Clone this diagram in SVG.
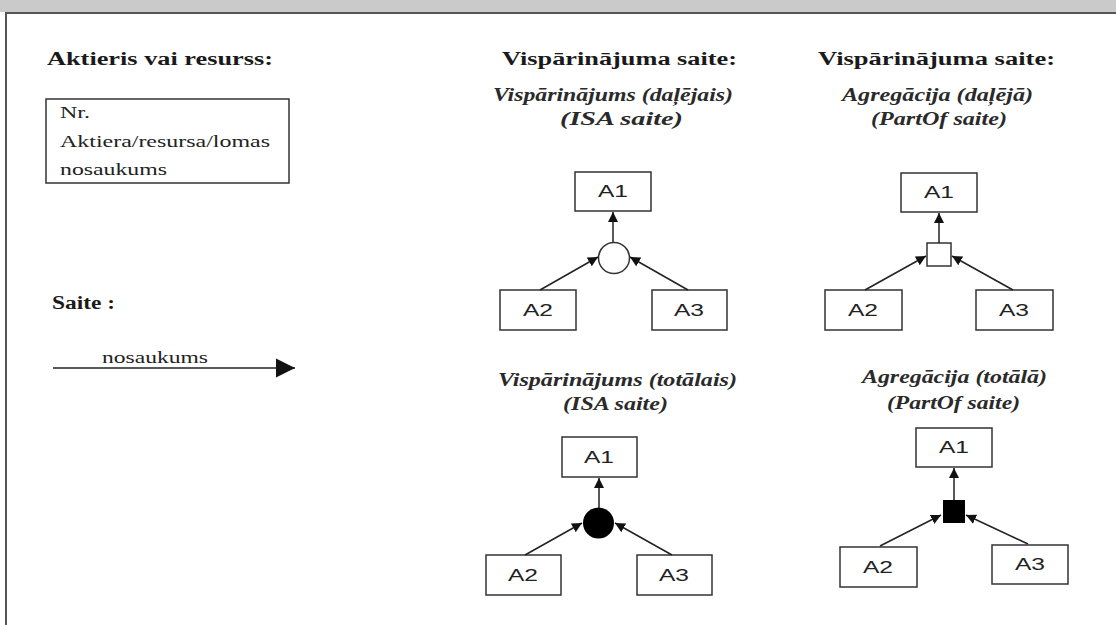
<svg xmlns="http://www.w3.org/2000/svg" width="1116" height="625" viewBox="0 0 1116 625">
<style>
.hd{font-family:"Liberation Serif",serif;font-weight:bold;font-size:18px;fill:#1a1a1a}
.ti{font-family:"Liberation Serif",serif;font-weight:bold;font-style:italic;font-size:18px;fill:#2a2a2a}
.tx{font-family:"Liberation Serif",serif;font-size:17px;fill:#222}
.lb{font-family:"Liberation Sans",sans-serif;font-size:16px;fill:#222;text-anchor:middle}
.box{fill:#fff;stroke:#333;stroke-width:1.5}
.ln{stroke:#222;stroke-width:1.5;fill:none}
</style>
<defs>
<marker id="ahs" viewBox="0 0 10 10" refX="10" refY="5" markerWidth="10" markerHeight="10" orient="auto" markerUnits="userSpaceOnUse">
<path d="M0,0 L10,5 L0,10 z" fill="#111"/>
</marker>
<marker id="big" viewBox="0 0 10 10" refX="10" refY="5" markerWidth="19" markerHeight="20" orient="auto" markerUnits="userSpaceOnUse">
<path d="M0,0 L10,5 L0,10 z" fill="#111"/>
</marker>
</defs>
<rect x="0" y="0" width="1116" height="625" fill="#fff"/>
<g id="frame">
<rect x="0" y="0" width="1116" height="12" fill="#cacaca"/>
<line x1="6" y1="13" x2="1116" y2="13" stroke="#555" stroke-width="2"/>
<line x1="6" y1="12" x2="6" y2="625" stroke="#555" stroke-width="2"/>
</g>
<g id="legend-actor">
<text class="hd" x="47" y="65" textLength="226" lengthAdjust="spacingAndGlyphs">Aktieris vai resurss:</text>
<rect class="box" x="46" y="99" width="243" height="84"/>
<text class="tx" x="60" y="118" textLength="30" lengthAdjust="spacingAndGlyphs">Nr.</text>
<text class="tx" x="60" y="147" textLength="210" lengthAdjust="spacingAndGlyphs">Aktiera/resursa/lomas</text>
<text class="tx" x="60" y="175" textLength="107" lengthAdjust="spacingAndGlyphs">nosaukums</text>
</g>
<g id="legend-link">
<text class="hd" x="52" y="309" textLength="63" lengthAdjust="spacingAndGlyphs">Saite :</text>
<text class="tx" x="102" y="363" textLength="106" lengthAdjust="spacingAndGlyphs">nosaukums</text>
</g>
<g id="headings">
<text class="hd" x="502" y="65" textLength="235" lengthAdjust="spacingAndGlyphs">Vispārinājuma saite:</text>
<text class="hd" x="818" y="65" textLength="237" lengthAdjust="spacingAndGlyphs">Vispārinājuma saite:</text>
</g>
<g id="titles">
<text class="ti" x="493" y="101" textLength="240" lengthAdjust="spacingAndGlyphs">Vispārinājums (daļējais)</text>
<text class="ti" x="560" y="125" textLength="123" lengthAdjust="spacingAndGlyphs">(ISA saite)</text>
<text class="ti" x="842" y="101" textLength="191" lengthAdjust="spacingAndGlyphs">Agregācija (daļējā)</text>
<text class="ti" x="871" y="125" textLength="136" lengthAdjust="spacingAndGlyphs">(PartOf saite)</text>
<text class="ti" x="498" y="386" textLength="239" lengthAdjust="spacingAndGlyphs">Vispārinājums (totālais)</text>
<text class="ti" x="563" y="410" textLength="105" lengthAdjust="spacingAndGlyphs">(ISA saite)</text>
<text class="ti" x="862" y="383" textLength="185" lengthAdjust="spacingAndGlyphs">Agregācija (totālā)</text>
<text class="ti" x="887" y="409" textLength="133" lengthAdjust="spacingAndGlyphs">(PartOf saite)</text>
</g>
<g id="tl-A1"><rect class="box" x="575" y="172" width="76" height="39"/><text class="lb" x="613" y="197" textLength="30" lengthAdjust="spacingAndGlyphs">A1</text></g>
<g id="tl-A2"><rect class="box" x="500" y="290" width="76" height="40"/><text class="lb" x="538" y="316" textLength="30" lengthAdjust="spacingAndGlyphs">A2</text></g>
<g id="tl-A3"><rect class="box" x="652" y="290" width="75" height="40"/><text class="lb" x="689" y="316" textLength="30" lengthAdjust="spacingAndGlyphs">A3</text></g>
<g id="tl-join"><circle cx="614" cy="258" r="15.5" fill="#fff" stroke="#333" stroke-width="1.5"/></g>
<g id="tr-A1"><rect class="box" x="901" y="173" width="76" height="39"/><text class="lb" x="939" y="198" textLength="30" lengthAdjust="spacingAndGlyphs">A1</text></g>
<g id="tr-A2"><rect class="box" x="825" y="290" width="77" height="40"/><text class="lb" x="863" y="316" textLength="30" lengthAdjust="spacingAndGlyphs">A2</text></g>
<g id="tr-A3"><rect class="box" x="976" y="290" width="77" height="40"/><text class="lb" x="1014" y="316" textLength="30" lengthAdjust="spacingAndGlyphs">A3</text></g>
<g id="tr-join"><rect x="927" y="243" width="24" height="23" fill="#fff" stroke="#333" stroke-width="1.5"/></g>
<g id="bl-A1"><rect class="box" x="562" y="437" width="75" height="40"/><text class="lb" x="599" y="463" textLength="30" lengthAdjust="spacingAndGlyphs">A1</text></g>
<g id="bl-A2"><rect class="box" x="486" y="555" width="75" height="40"/><text class="lb" x="523" y="581" textLength="30" lengthAdjust="spacingAndGlyphs">A2</text></g>
<g id="bl-A3"><rect class="box" x="637" y="555" width="75" height="40"/><text class="lb" x="674" y="581" textLength="30" lengthAdjust="spacingAndGlyphs">A3</text></g>
<g id="bl-join"><circle cx="598.5" cy="523" r="15.5" fill="#000"/></g>
<g id="br-A1"><rect class="box" x="916" y="428" width="76" height="39"/><text class="lb" x="954" y="453" textLength="30" lengthAdjust="spacingAndGlyphs">A1</text></g>
<g id="br-A2"><rect class="box" x="840" y="547" width="77" height="40"/><text class="lb" x="878" y="573" textLength="30" lengthAdjust="spacingAndGlyphs">A2</text></g>
<g id="br-A3"><rect class="box" x="992" y="545" width="76" height="39"/><text class="lb" x="1030" y="570" textLength="30" lengthAdjust="spacingAndGlyphs">A3</text></g>
<g id="br-join"><rect x="943" y="500" width="22" height="23" fill="#000"/></g>
<g id="connectors">
<line class="ln" x1="53" y1="368" x2="295" y2="368" marker-end="url(#big)"/>
<line class="ln" x1="613" y1="242" x2="613" y2="212" marker-end="url(#ahs)"/>
<line class="ln" x1="540" y1="290" x2="598" y2="257" marker-end="url(#ahs)"/>
<line class="ln" x1="688" y1="290" x2="630" y2="257" marker-end="url(#ahs)"/>
<line class="ln" x1="939" y1="243" x2="939" y2="213" marker-end="url(#ahs)"/>
<line class="ln" x1="865" y1="290" x2="926" y2="256" marker-end="url(#ahs)"/>
<line class="ln" x1="1013" y1="290" x2="952" y2="256" marker-end="url(#ahs)"/>
<line class="ln" x1="599" y1="508" x2="599" y2="478" marker-end="url(#ahs)"/>
<line class="ln" x1="525" y1="555" x2="582" y2="523" marker-end="url(#ahs)"/>
<line class="ln" x1="672" y1="555" x2="615" y2="523" marker-end="url(#ahs)"/>
<line class="ln" x1="954" y1="500" x2="954" y2="468" marker-end="url(#ahs)"/>
<line class="ln" x1="880" y1="546" x2="941" y2="515" marker-end="url(#ahs)"/>
<line class="ln" x1="1028" y1="544" x2="966" y2="515" marker-end="url(#ahs)"/>
</g>
</svg>
